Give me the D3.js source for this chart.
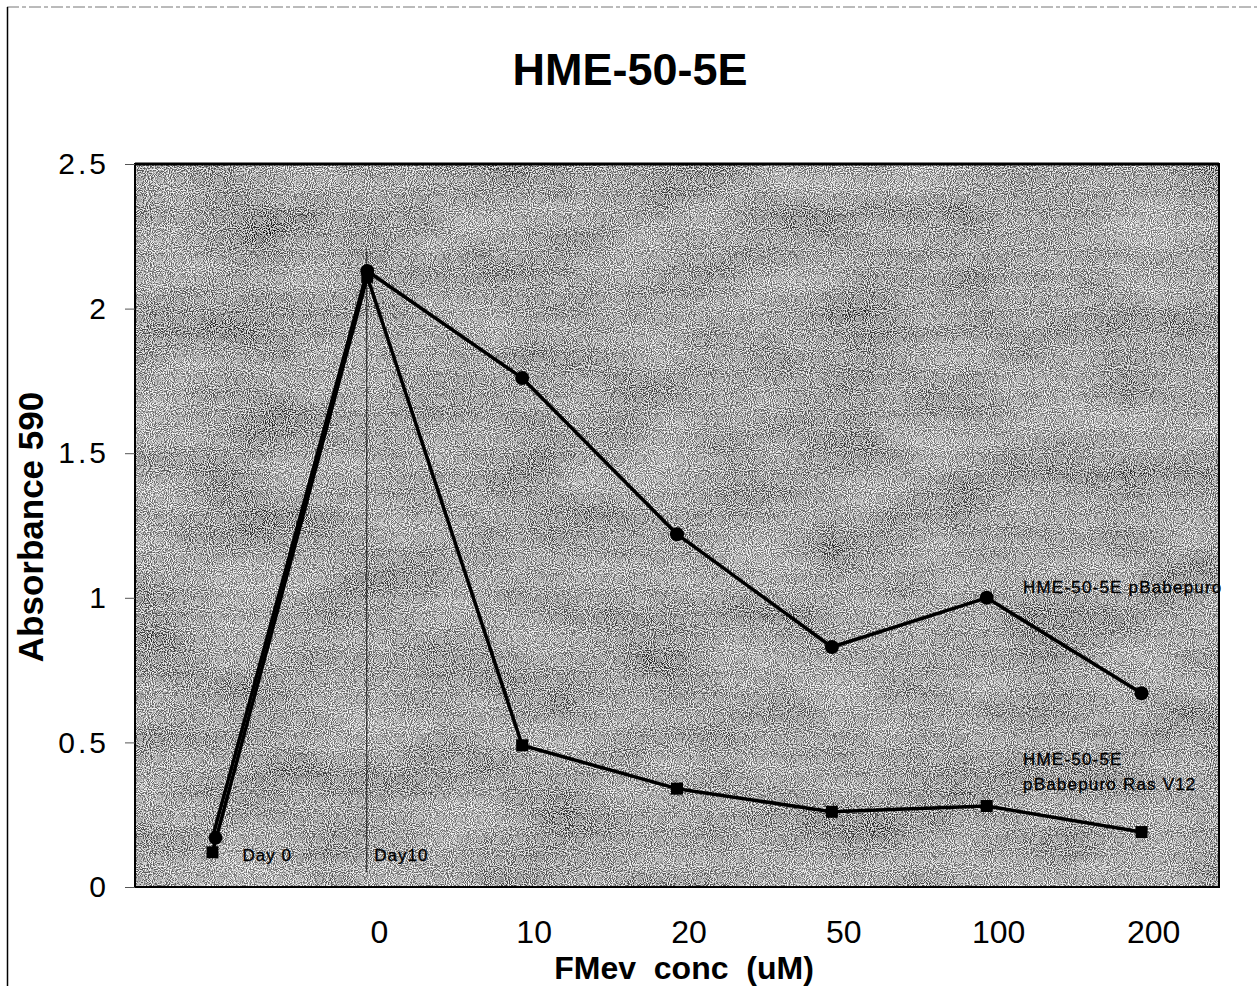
<!DOCTYPE html>
<html>
<head>
<meta charset="utf-8">
<script src="https://cdn.jsdelivr.net/npm/d3@7"></script>
<style>
  body { margin: 0; background: #fff; }
  svg { display: block; font-family: "Liberation Sans", Arial, sans-serif; }
</style>
</head>
<body>
<svg id="chart"></svg>
<script>
/* data */
const categories = ["Day0", "0", "10", "20", "50", "100", "200"];
const tickLabels = ["", "0", "10", "20", "50", "100", "200"];
const pBabepuro = [0.17, 2.13, 1.76, 1.22, 0.83, 1.00, 0.67];
const rasV12 = [0.12, 2.11, 0.49, 0.34, 0.26, 0.28, 0.19];
const yTicks = [0, 0.5, 1, 1.5, 2, 2.5];

/* setup */
let W = 1257, H = 986;
let plot = { left: 135, right: 1219, top: 164, bottom: 887 };

let svg = d3.select("#chart")
  .attr("width", W)
  .attr("height", H);

let x = d3.scaleBand()
  .domain(categories)
  .range([plot.left, plot.right]);
let y = d3.scaleLinear()
  .domain([0, 2.5])
  .range([plot.bottom, plot.top]);

let cx = d => x(d) + x.bandwidth() / 2;

// page frame
svg.append("line")
  .attr("x1", 7).attr("x2", W).attr("y1", 7).attr("y2", 7)
  .attr("stroke", "#777").attr("stroke-width", 1)
  .attr("stroke-dasharray", "12 3 4 3");
svg.append("line")
  .attr("x1", 7.5).attr("x2", 7.5).attr("y1", 7).attr("y2", H)
  .attr("stroke", "#000").attr("stroke-width", 1.5);

/* grainy gray background */
let defs = svg.append("defs");
let f = defs.append("filter")
  .attr("id", "grain")
  .attr("filterUnits", "userSpaceOnUse")
  .attr("x", plot.left).attr("y", plot.top)
  .attr("width", plot.right - plot.left)
  .attr("height", plot.bottom - plot.top);
f.append("feTurbulence")
  .attr("type", "fractalNoise").attr("baseFrequency", 0.95)
  .attr("numOctaves", 1).attr("seed", 4).attr("result", "fine");
f.append("feColorMatrix")
  .attr("in", "fine").attr("type", "matrix")
  .attr("values", "4.2 0 0 0 -1.72  4.2 0 0 0 -1.72  4.2 0 0 0 -1.72  0 0 0 0 1")
  .attr("result", "fineG");
f.append("feTurbulence")
  .attr("type", "fractalNoise").attr("baseFrequency", "0.01 0.02")
  .attr("numOctaves", 3).attr("seed", 11).attr("result", "coarse");
f.append("feColorMatrix")
  .attr("in", "coarse").attr("type", "matrix")
  .attr("values", "1.2 0 0 0 -0.1  1.2 0 0 0 -0.1  1.2 0 0 0 -0.1  0 0 0 0 1")
  .attr("result", "coarseG");
f.append("feComposite")
  .attr("in", "fineG").attr("in2", "coarseG")
  .attr("operator", "arithmetic")
  .attr("k1", 0).attr("k2", 0.8).attr("k3", 0.2).attr("k4", 0);

svg.append("rect")
  .attr("x", plot.left).attr("y", plot.top)
  .attr("width", plot.right - plot.left)
  .attr("height", plot.bottom - plot.top)
  .attr("fill", "#999")
  .attr("filter", "url(#grain)");

// plot border
svg.append("rect")
  .attr("x", plot.left).attr("y", plot.top)
  .attr("width", plot.right - plot.left)
  .attr("height", plot.bottom - plot.top)
  .attr("fill", "none")
  .attr("stroke", "#000").attr("stroke-width", 2);
svg.append("line")
  .attr("x1", plot.left).attr("x2", plot.right)
  .attr("y1", plot.top).attr("y2", plot.top)
  .attr("stroke", "#000").attr("stroke-width", 3);

/* y axis */
let yAxis = svg.append("g")
  .attr("transform", `translate(${plot.left},0)`)
  .call(d3.axisLeft(y).tickValues(yTicks).tickSize(10).tickPadding(16)
    .tickFormat(d3.format("")));
yAxis.select(".domain").remove();
yAxis.selectAll(".tick line").attr("stroke", "#555");
yAxis.selectAll("text")
  .attr("font-size", 30)
  .attr("letter-spacing", 3)
  .attr("fill", "#000")
  .attr("font-family", "'Liberation Sans', Arial, sans-serif");

/* x axis */
let xAxis = svg.append("g")
  .attr("transform", `translate(0,${plot.bottom})`)
  .call(d3.axisBottom(x).tickSize(0).tickPadding(33)
    .tickFormat((d, i) => tickLabels[i]));
xAxis.select(".domain").remove();
xAxis.selectAll("text")
  .attr("font-size", 32)
  .attr("dx", 12)
  .attr("fill", "#000")
  .attr("font-family", "'Liberation Sans', Arial, sans-serif");

/* titles */
svg.append("text")
  .attr("x", 630).attr("y", 85)
  .attr("text-anchor", "middle")
  .attr("font-size", 45).attr("font-weight", "bold")
  .text("HME-50-5E");

svg.append("text")
  .attr("x", 684).attr("y", 979)
  .attr("text-anchor", "middle")
  .attr("font-size", 32).attr("font-weight", "bold")
  .attr("xml:space", "preserve")
  .style("white-space", "pre")
  .text("FMev  conc  (uM)");

svg.append("text")
  .attr("transform", "translate(43,527) rotate(-90)")
  .attr("text-anchor", "middle")
  .attr("font-size", 35).attr("font-weight", "bold")
  .text("Absorbance 590");

/* Day10 divider */
svg.append("line")
  .attr("x1", cx("0") - 0.5).attr("x2", cx("0") - 0.5)
  .attr("y1", y(2.2)).attr("y2", y(0.05))
  .attr("stroke", "#111").attr("stroke-width", 1);

svg.append("text")
  .attr("x", cx("Day0") + 30).attr("y", y(0.09))
  .attr("font-size", 17).attr("letter-spacing", 1)
  .attr("stroke", "#000").attr("stroke-width", 0.3)
  .text("Day 0");
svg.append("text")
  .attr("x", cx("0") + 7).attr("y", y(0.09))
  .attr("font-size", 17).attr("letter-spacing", 1)
  .attr("stroke", "#000").attr("stroke-width", 0.3)
  .text("Day10");

/* series */
let line = d3.line()
  .x((d, i) => cx(categories[i]))
  .y(d => y(d));

[pBabepuro, rasV12].forEach(s => {
  svg.append("path")
    .datum(s)
    .attr("d", line)
    .attr("fill", "none")
    .attr("stroke", "#000")
    .attr("stroke-width", 3.5)
    .attr("stroke-linejoin", "round");
});

svg.selectAll(".sq")
  .data(rasV12)
  .enter().append("rect")
  .attr("class", "sq")
  .attr("x", (d, i) => cx(categories[i]) - 6)
  .attr("y", d => y(d) - 6)
  .attr("width", 12).attr("height", 12)
  .attr("fill", "#000");

svg.selectAll(".dot")
  .data(pBabepuro)
  .enter().append("circle")
  .attr("class", "dot")
  .attr("cx", (d, i) => cx(categories[i]) + (i == 0 ? 3 : 0))
  .attr("cy", d => y(d))
  .attr("r", 7)
  .attr("fill", "#000");

/* series labels */
let labelStyle = sel => sel
  .attr("font-size", 17).attr("letter-spacing", 1.2)
  .attr("stroke", "#000").attr("stroke-width", 0.3);

svg.append("text")
  .attr("x", 1023).attr("y", 593)
  .call(labelStyle)
  .text("HME-50-5E pBabepuro");
svg.append("text")
  .attr("x", 1023).attr("y", 765)
  .call(labelStyle)
  .text("HME-50-5E");
svg.append("text")
  .attr("x", 1023).attr("y", 790)
  .call(labelStyle)
  .text("pBabepuro Ras V12");
</script>
</body>
</html>
